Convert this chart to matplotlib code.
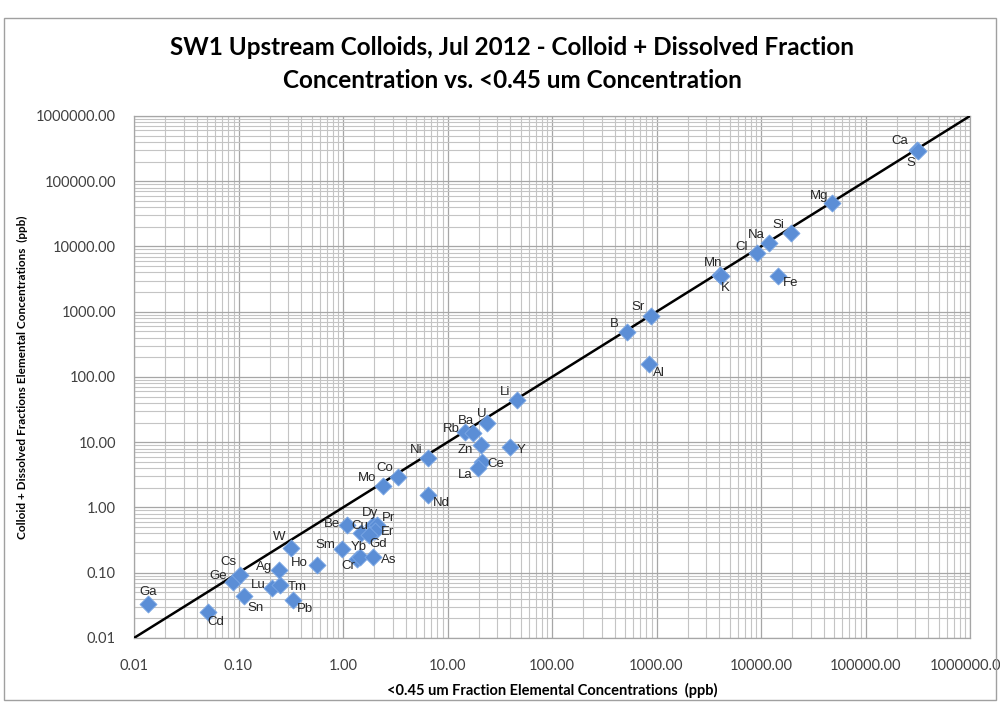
import matplotlib.pyplot as plt
from matplotlib.ticker import LogLocator, FixedLocator, NullFormatter
from matplotlib.patches import Rectangle

# element names with <0.45 um concentration (x) and colloid + dissolved concentration (y), ppb
elements = ['Ga', 'Cd', 'Ge', 'Cs', 'Sn', 'Lu', 'Tm', 'Ag', 'Pb', 'W', 'Ho', 'Sm',
            'Cr', 'Yb', 'Be', 'Cu', 'Dy', 'Pr', 'Er', 'Gd', 'As', 'Mo', 'Co', 'Ni',
            'Nd', 'Rb', 'Ba', 'U', 'Zn', 'Ce', 'La', 'Y', 'Li', 'B', 'Sr', 'Al',
            'Mn', 'K', 'Fe', 'Cl', 'Na', 'Si', 'Mg', 'Ca', 'S']
x_vals = [0.0136, 0.0507, 0.089, 0.103, 0.114, 0.208, 0.25, 0.246, 0.335, 0.318, 0.56, 0.97,
          1.35, 1.45, 1.10, 1.48, 1.95, 2.13, 2.02, 1.79, 1.95, 2.43, 3.38, 6.55,
          6.46, 14.7, 17.7, 23.7, 20.8, 21.2, 19.7, 39.6, 45.9, 519, 880, 848,
          4050, 4150, 14650, 9100, 12000, 19240, 47500, 309000, 320000]
y_vals = [0.0332, 0.0253, 0.073, 0.092, 0.044, 0.058, 0.065, 0.110, 0.038, 0.237, 0.131, 0.229,
          0.16, 0.175, 0.53, 0.40, 0.54, 0.54, 0.44, 0.38, 0.173, 2.13, 2.90, 5.67,
          1.55, 14.5, 14.0, 19.9, 9.08, 5.04, 3.99, 8.55, 44.5, 494, 861, 158,
          3660, 3550, 3530, 8040, 11200, 16300, 45900, 301000, 290000]

# 1:1 reference line
line_x = [0.01, 1000000]

# data label offsets (pixels) for each element
label_offsets = {
    'Ga': (0, 12), 'Cd': (8, -10), 'Ge': (-15, 6), 'Cs': (-11, 13), 'Sn': (11, -12),
    'Lu': (-13, 3), 'Tm': (17, -2), 'Ag': (-15, 3), 'Pb': (12, -9), 'W': (-12, 11),
    'Ho': (-17, 2), 'Sm': (-16, 4), 'Cr': (-8, -7), 'Yb': (-1, 10), 'Be': (-15, 1),
    'Cu': (-1, 7), 'Dy': (-3, 12), 'Pr': (11, 7), 'Er': (13, -1), 'Gd': (9, -9),
    'As': (15, -3), 'Mo': (-16, 8), 'Co': (-14, 9), 'Ni': (-12, 8), 'Nd': (14, -8),
    'Rb': (-14, 3), 'Ba': (-7, 12), 'U': (-5, 9), 'Zn': (-15, -5), 'Ce': (14, -2),
    'La': (-13, -7), 'Y': (11, -3), 'Li': (-12, 8), 'B': (-12, 8), 'Sr': (-13, 9),
    'Al': (10, -9), 'Mn': (-7, 12), 'K': (4, -12), 'Fe': (12, -7), 'Cl': (-15, 6),
    'Na': (-13, 8), 'Si': (-12, 8), 'Mg': (-13, 7), 'Ca': (-17, 9), 'S': (-7, -12),
}

narrow = ['Lato', 'DejaVu Sans']

fig = plt.figure(figsize=(10, 7.04), dpi=100)
fig.patches.append(Rectangle((0.004, 0.006), 0.992, 0.968, transform=fig.transFigure,
                             fill=False, edgecolor='#a0a0a0', linewidth=1.0))
ax = fig.add_axes([0.134, 0.0938, 0.836, 0.7415])

ax.set_xscale('log')
ax.set_yscale('log')
ax.set_xlim(0.01, 1000000)
ax.set_ylim(0.01, 1000000)

ticks = [10.0 ** p for p in range(-2, 7)]
ax.xaxis.set_major_locator(FixedLocator(ticks))
ax.yaxis.set_major_locator(FixedLocator(ticks))
ax.xaxis.set_minor_locator(LogLocator(base=10, subs=range(2, 10), numticks=20))
ax.yaxis.set_minor_locator(LogLocator(base=10, subs=range(2, 10), numticks=20))
ax.xaxis.set_minor_formatter(NullFormatter())
ax.yaxis.set_minor_formatter(NullFormatter())
ax.set_xticks(ticks)
ax.set_xticklabels(['%.2f' % t for t in ticks])
ax.set_yticks(ticks)
ax.set_yticklabels(['%.2f' % t for t in ticks])
ax.tick_params(which='both', length=0, labelsize=10.5, colors='#404040')
ax.tick_params(axis='x', pad=15)
ax.tick_params(axis='y', pad=13)
for lbl in ax.get_xticklabels() + ax.get_yticklabels():
    lbl.set_family(narrow)

ax.grid(which='major', color='#a6a6a6', linewidth=0.9)
ax.grid(which='minor', color='#c4c4c4', linewidth=0.8)
ax.set_axisbelow(True)
for s in ax.spines.values():
    s.set_color('#a6a6a6')
    s.set_linewidth(0.9)

ax.plot(line_x, line_x, color='black', linewidth=1.8, zorder=3)
ax.scatter(x_vals, y_vals, marker='D', s=75, color='#5b8ed6', edgecolors='#7aa6e4',
           linewidths=0.6, zorder=4)

for name, xv, yv in zip(elements, x_vals, y_vals):
    dx, dy = label_offsets[name]
    ax.annotate(name, (xv, yv), xytext=(dx, dy), textcoords='offset pixels',
                ha='center', va='center', fontsize=9.5, color='#262626',
                family=['Liberation Sans', 'DejaVu Sans'], zorder=5)

fig.text(0.512, 0.932, 'SW1 Upstream Colloids, Jul 2012 - Colloid + Dissolved Fraction',
         ha='center', va='center', fontsize=17.5, fontweight='bold', family=narrow)
fig.text(0.512, 0.886, 'Concentration vs. <0.45 um Concentration',
         ha='center', va='center', fontsize=17.5, fontweight='bold', family=narrow)

ax.set_xlabel('<0.45 um Fraction Elemental Concentrations  (ppb)', fontsize=10.5,
              fontweight='bold', family=narrow, labelpad=7)
ax.set_ylabel('Colloid + Dissolved Fractions Elemental Concentrations  (ppb)', fontsize=8.5,
              fontweight='bold', family=narrow, labelpad=6)

fig.savefig('out.png', dpi=100)
